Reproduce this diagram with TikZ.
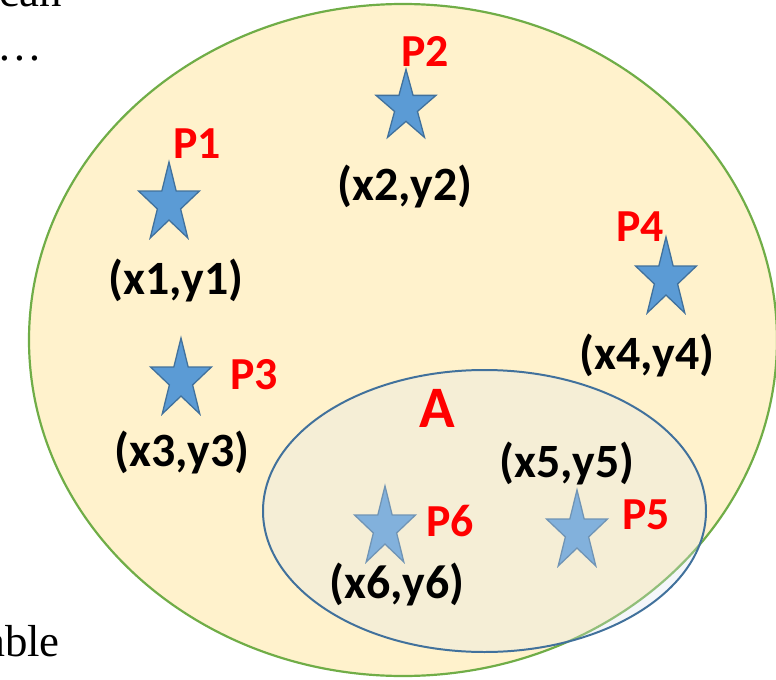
\documentclass[tikz,border=0pt]{standalone}
\usepackage{fontspec}
\setmainfont{Liberation Serif}
\newfontfamily\carl{Carlito}
\definecolor{ellgreen}{HTML}{70AD47}
\definecolor{ellfill}{HTML}{FFF2CC}
\definecolor{innerblue}{HTML}{41719C}
\definecolor{innerfill}{HTML}{DEE6EF}
\definecolor{starfill}{HTML}{5B9BD5}
\definecolor{starline}{HTML}{41719C}
\definecolor{lblred}{HTML}{FF0000}
\tikzset{
  bigell/.style={draw=ellgreen, line width=2.2pt, fill=ellfill},
  smallell/.style={draw=innerblue, line width=2pt},
  smallfill/.style={fill=innerfill, fill opacity=0.3},
  starshape/.style={draw=starline, line width=1.3pt, fill=starfill, line join=miter},
  coordlbl/.style={inner sep=0pt, anchor=center, font=\carl\bfseries\fontsize{48}{52}\selectfont},
  plbl/.style={inner sep=0pt, anchor=base, text=lblred, font=\carl\bfseries\fontsize{46}{50}\selectfont},
  albl/.style={inner sep=0pt, anchor=base, text=lblred, font=\carl\bfseries\fontsize{59}{63}\selectfont},
  frag/.style={inner sep=0pt, font=\fontsize{45}{50}\selectfont}
}
% \mystar{name}{cx}{cy}{rx}{ry}
\newcommand\mystar[5]{%
  \coordinate (#1) at (#2,#3);
  \draw[starshape, shift={(#1)}, xscale=#4, yscale=-#5]
    (90:1) -- (126:.382) -- (162:1) -- (198:.382) -- (234:1) -- (270:.382)
    -- (306:1) -- (342:.382) -- (18:1) -- (54:.382) -- cycle;}
\begin{document}
\begin{tikzpicture}[x=1bp, y=-1bp]
\useasboundingbox (0,0) rectangle (776,680);
% outer ellipse
\draw[bigell] (403,340) ellipse [x radius=374, y radius=336];
% stars in outer region
\mystar{s1}{169}{204}{32}{42}
\mystar{s2}{406}{107}{31.5}{37.6}
\mystar{s3}{181}{380}{32}{42}
\mystar{s4}{666}{279}{32}{42}
% stars under the set A
\mystar{s6}{385}{528}{32}{42}
\mystar{s5}{577}{532}{32}{42}
% set A
\coordinate (ca) at (484.5,511);
\fill[smallfill] (ca) ellipse [x radius=221.5, y radius=141];
\draw[smallell] (ca) ellipse [x radius=221.5, y radius=141];
% labels
\node[plbl] (p1) at (197,158) {P1};
\node[plbl] (p2) at (425,67) {P2};
\node[plbl] (p3) at (254,389) {P3};
\node[plbl] (p4) at (640,241) {P4};
\node[plbl] (p5) at (646,529) {P5};
\node[plbl] (p6) at (450,536) {P6};
\node[albl] (a) at (437,427) {A};
\node[coordlbl] (c1) at (176,281) {(x1,y1)};
\node[coordlbl] (c2) at (405,187) {(x2,y2)};
\node[coordlbl] (c3) at (182,453) {(x3,y3)};
\node[coordlbl] (c4) at (647,356) {(x4,y4)};
\node[coordlbl] (c5) at (567,464) {(x5,y5)};
\node[coordlbl] (c6) at (397,585) {(x6,y6)};
% surrounding text fragments
\node[frag, anchor=base east] (t1) at (62,7) {can};
\node[frag, anchor=base] (t2) at (20,61) {…};
\node[frag, anchor=base east] (t3) at (60,656) {able};
\end{tikzpicture}
\end{document}
